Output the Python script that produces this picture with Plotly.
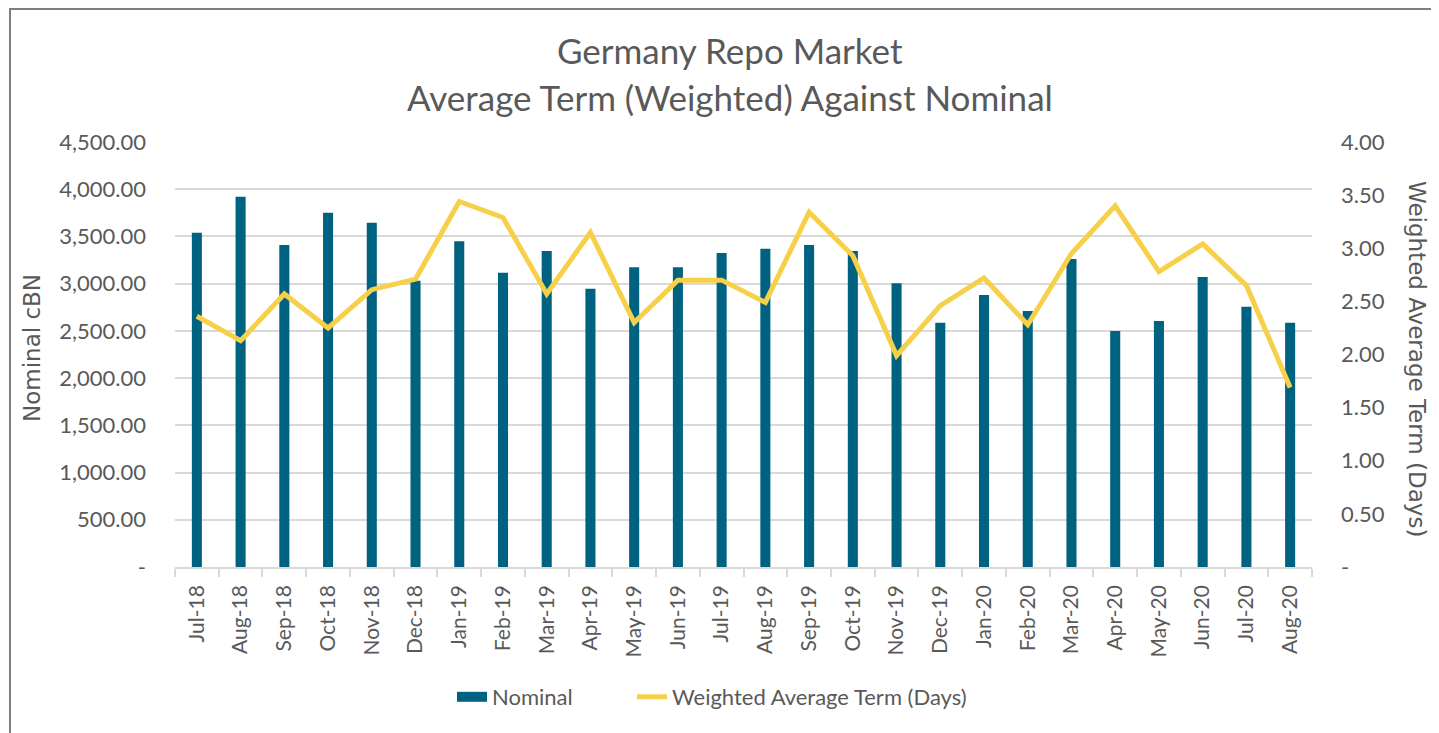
import plotly.graph_objects as go

months = ["Jul-18", "Aug-18", "Sep-18", "Oct-18", "Nov-18", "Dec-18",
          "Jan-19", "Feb-19", "Mar-19", "Apr-19", "May-19", "Jun-19",
          "Jul-19", "Aug-19", "Sep-19", "Oct-19", "Nov-19", "Dec-19",
          "Jan-20", "Feb-20", "Mar-20", "Apr-20", "May-20", "Jun-20",
          "Jul-20", "Aug-20"]
nominal = [3540, 3920, 3410, 3750, 3645, 3030,
           3450, 3115, 3345, 2945, 3175, 3175,
           3325, 3370, 3410, 3345, 3005, 2585,
           2880, 2710, 3260, 2500, 2605, 3070,
           2755, 2585]
avg_term = [2.36, 2.13, 2.57, 2.25, 2.61, 2.71,
            3.44, 3.29, 2.57, 3.15, 2.30, 2.70,
            2.70, 2.49, 3.34, 2.93, 1.99, 2.46,
            2.72, 2.28, 2.95, 3.40, 2.78, 3.04,
            2.65, 1.69]
left_ticks = [0, 500, 1000, 1500, 2000, 2500, 3000, 3500, 4000, 4500]
left_labels = ["-", "500.00", "1,000.00", "1,500.00", "2,000.00", "2,500.00",
               "3,000.00", "3,500.00", "4,000.00", "4,500.00"]
right_ticks = [0, 0.5, 1, 1.5, 2, 2.5, 3, 3.5, 4]
right_labels = ["-", "0.50", "1.00", "1.50", "2.00", "2.50", "3.00", "3.50", "4.00"]

FONT = "Lato, Carlito, Calibri, sans-serif"
TFONT = "'DejaVu Sans', Verdana, sans-serif"
GRAY = "#595959"
BAR = "#006281"
LINE = "#F7D04A"

# geometry of the plot area inside the page (page has an 8px body margin)
PL, PT, PW, PH = 175, 142, 1137, 425
BODY = 8
W, H = 1423, 725


def px(xp):
    return (xp - PL) / PW


def py(yp):
    return (PT + PH - yp) / PH


fig = go.Figure()
fig.add_trace(go.Bar(x=months, y=nominal, name="Nominal",
                     marker=dict(color=BAR, line=dict(width=0)),
                     width=0.23, yaxis="y", showlegend=False))
# legend swatch for the bars (wide rectangle like the reference)
fig.add_trace(go.Scatter(x=[None], y=[None], name="Nominal", mode="lines",
                         line=dict(color=BAR, width=14), yaxis="y", legend="legend"))
fig.add_trace(go.Scatter(x=months, y=avg_term, name="Weighted Average Term (Days)",
                         mode="lines", line=dict(color=LINE, width=5),
                         yaxis="y2", legend="legend2"))

legend_common = dict(orientation="h", xanchor="left", yanchor="middle",
                     font=dict(size=22, color=GRAY, family=FONT),
                     bgcolor="rgba(0,0,0,0)")

fig.update_layout(
    width=W, height=H,
    margin=dict(l=PL - BODY, r=W - (PL - BODY) - PW, t=PT - BODY, b=H - (PT - BODY) - PH),
    paper_bgcolor="white", plot_bgcolor="white",
    font=dict(family=FONT, color=GRAY, size=21),
    showlegend=True,
    legend=dict(x=px(452), y=py(697), **legend_common),
    legend2=dict(x=px(632), y=py(697), **legend_common),
    xaxis=dict(type="category", tickangle=-90, showgrid=False,
               showline=True, linecolor="#d9d9d9", linewidth=1.5,
               ticks="outside", tickson="boundaries", ticklen=8, tickcolor="#d9d9d9",
               tickwidth=1.5, ticklabelstandoff=8,
               tickfont=dict(size=21, color=GRAY)),
    yaxis=dict(range=[0, 4500], tickvals=left_ticks, ticktext=left_labels,
               showgrid=True, gridcolor="#d9d9d9", gridwidth=1.5, zeroline=False,
               tickfont=dict(size=22, color=GRAY), ticklabelstandoff=28),
    yaxis2=dict(range=[0, 4], tickvals=right_ticks, ticktext=right_labels,
                overlaying="y", side="right", showgrid=False, zeroline=False,
                tickfont=dict(size=22, color=GRAY), ticklabelstandoff=28),
)

# title (two lines)
fig.add_annotation(text="Germany Repo Market", xref="paper", yref="paper",
                   x=px(730), y=py(50), xanchor="center", yanchor="middle",
                   showarrow=False, font=dict(size=35, color=GRAY, family=FONT))
fig.add_annotation(text="Average Term (Weighted) Against Nominal", xref="paper", yref="paper",
                   x=px(730), y=py(97), xanchor="center", yanchor="middle",
                   showarrow=False, font=dict(size=35, color=GRAY, family=FONT))

# axis titles
fig.add_annotation(text="Nominal cBN", xref="paper", yref="paper",
                   x=px(32), y=py(348), textangle=-90,
                   xanchor="center", yanchor="middle", showarrow=False,
                   font=dict(size=23, color=GRAY, family=TFONT))
fig.add_annotation(text="Weighted Average Term (Days)", xref="paper", yref="paper",
                   x=px(1417), y=py(359), textangle=90,
                   xanchor="center", yanchor="middle", showarrow=False,
                   font=dict(size=23, color=GRAY, family=TFONT))

# chart border (top and left edges visible) as one open path
bx0, bx1, by0, by1 = px(10), px(1431), py(9), py(740)
fig.add_shape(type="path", xref="paper", yref="paper",
              path=f"M {bx0},{by1} L {bx0},{by0} L {bx1},{by0}",
              line=dict(color="#7f7f7f", width=2))

fig.write_html("out.html")
